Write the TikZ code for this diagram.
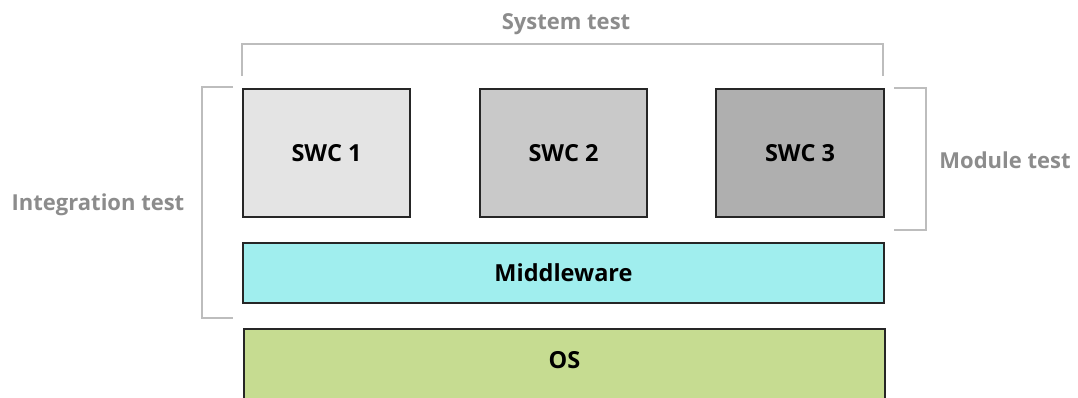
\documentclass[tikz,border=0pt]{standalone}
\usepackage{fontspec}
\setmainfont{Open Sans}
\definecolor{swcA}{HTML}{E4E4E4}
\definecolor{swcB}{HTML}{C9C9C9}
\definecolor{swcC}{HTML}{AFAFAF}
\definecolor{mwfill}{HTML}{A0EEEE}
\definecolor{osfill}{HTML}{C6DC91}
\definecolor{brk}{HTML}{BDBDBD}
\definecolor{lbl}{HTML}{8C8C8C}
\begin{document}
\begin{tikzpicture}[x=1pt,y=-1pt,
  layerbox/.style={draw=black!85,line width=1.5pt,inner sep=0pt,font=\fontsize{23.5}{26}\selectfont\bfseries},
  bracket/.style={draw=brk,line width=1.3pt},
  testlabel/.style={text=lbl,font=\fontsize{22}{24}\selectfont\bfseries}]
\useasboundingbox (0,0) rectangle (1078,397);
\begin{scope}
\clip (0,0) rectangle (1078,397);
\node[layerbox,fill=swcA,minimum width=167pt,minimum height=128pt] (s1) at (326.5,153) {SWC 1};
\node[layerbox,fill=swcB,minimum width=167pt,minimum height=128pt] (s2) at (563.5,153) {SWC 2};
\node[layerbox,fill=swcC,minimum width=168pt,minimum height=128pt] (s3) at (800,153) {SWC 3};
\node[layerbox,fill=mwfill,minimum width=641pt,minimum height=60pt] (mw) at (563.5,273) {Middleware};
\node[layerbox,fill=osfill,minimum width=641pt,minimum height=80pt] (os) at (564.5,369) {};
\node[font=\fontsize{23.5}{26}\selectfont\bfseries] (ostxt) at (564.5,360) {OS};
\end{scope}
\coordinate (sysL) at (242,76);
\coordinate (sysR) at (883,76);
\draw[bracket] (sysL) -- ++(0,-32) -| (sysR);
\node[testlabel] (syslbl) at (566,24) {System test};
\coordinate (intT) at (233,87);
\coordinate (intB) at (233,318);
\draw[bracket] (intT) -- ++(-31,0) |- (intB);
\node[testlabel] (intlbl) at (98,205) {Integration test};
\coordinate (modT) at (894,88);
\coordinate (modB) at (894,230);
\draw[bracket] (modT) -- ++(32,0) |- (modB);
\node[testlabel] (modlbl) at (1005,160) {Module test};
\end{tikzpicture}
\end{document}
